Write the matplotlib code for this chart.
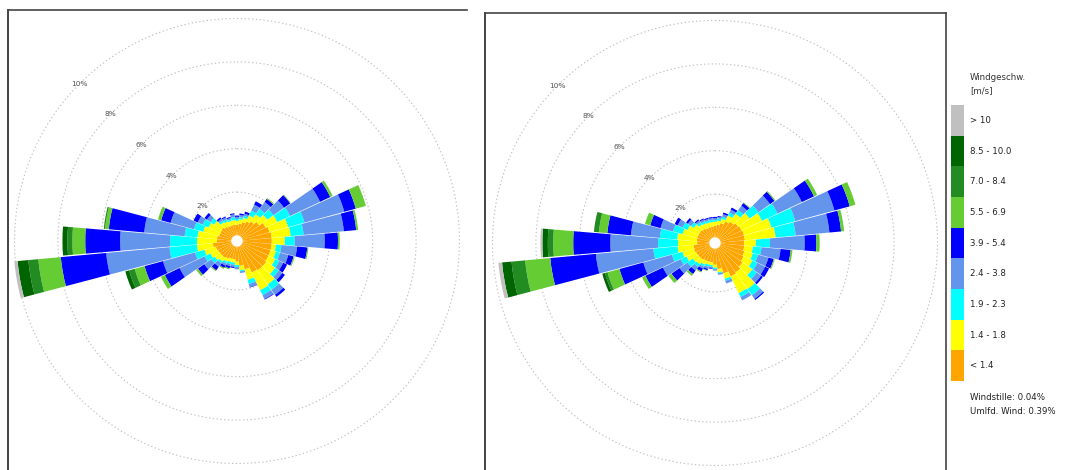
import numpy as np
import matplotlib
matplotlib.use("Agg")
import matplotlib.pyplot as plt
from matplotlib.patches import Rectangle
from matplotlib.lines import Line2D

W, H = 1065, 470

directions = np.arange(0, 360, 10)  # sector centres, compass degrees
classes = ["< 1.4", "1.4 - 1.8", "1.9 - 2.3", "2.4 - 3.8", "3.9 - 5.4",
           "5.5 - 6.9", "7.0 - 8.4", "8.5 - 10.0", "> 10"]
colors = ["#FFA500", "#FFFF00", "#00FFFF", "#6495ED", "#0000FF",
          "#66CC33", "#228B22", "#006400", "#C0C0C0"]
ring_values = [2, 4, 6, 8, 10]
legend_title = "Windgeschw.\n[m/s]"
calm_text = "Windstille: 0.04%"
variable_text = "Umlfd. Wind: 0.39%"

# cumulative frequency (%) per sector, up to the upper edge of each speed class
left_lt14 = [0.50, 0.55, 0.65, 0.75, 0.85, 1.00, 1.20, 1.30, 1.35, 1.35, 1.35, 1.35, 1.35, 1.40, 1.40, 1.35, 1.10, 0.90,
             0.70, 0.60, 0.60, 0.65, 0.70, 0.70, 0.72, 0.76, 0.86, 0.67, 0.67, 0.60, 0.60, 0.62, 0.55, 0.50, 0.50, 0.50]
left_lt18 = [0.68, 0.75, 0.85, 1.05, 1.25, 1.45, 1.80, 2.19, 2.23, 1.95, 1.55, 1.60, 1.70, 1.90, 2.20, 2.25, 1.60, 1.10,
             0.85, 0.75, 0.75, 0.80, 0.90, 1.00, 1.10, 1.30, 1.60, 1.59, 1.57, 1.36, 1.20, 1.05, 0.80, 0.75, 0.70, 0.72]
left_lt23 = [0.76, 0.85, 0.95, 1.30, 1.55, 1.80, 2.45, 2.97, 2.83, 2.41, 1.80, 1.80, 1.90, 2.10, 2.50, 2.50, 1.80, 1.15,
             0.95, 0.85, 0.85, 0.90, 1.00, 1.20, 1.40, 1.75, 2.87, 2.83, 2.17, 1.80, 1.50, 1.25, 0.90, 0.85, 0.78, 0.85]
left_lt38 = [0.86, 0.95, 1.05, 1.60, 1.95, 2.40, 3.98, 4.87, 4.69, 3.79, 2.53, 2.20, 2.10, 2.30, 2.78, 2.70, 1.95, 1.23,
             1.05, 0.95, 0.95, 1.00, 1.20, 1.60, 2.67, 3.28, 5.80, 5.13, 4.04, 2.92, 1.75, 1.45, 1.00, 0.95, 0.85, 0.98]
left_lt54 = [0.92, 1.02, 1.15, 1.77, 2.12, 2.75, 4.50, 5.42, 5.26, 4.40, 3.00, 2.45, 2.30, 2.45, 2.90, 2.73, 1.97, 1.23,
             1.05, 1.00, 1.05, 1.12, 1.40, 1.95, 3.42, 4.16, 7.90, 6.74, 5.68, 3.37, 1.96, 1.58, 1.08, 1.00, 0.90, 1.03]
left_lt69 = [0.92, 1.02, 1.15, 1.77, 2.17, 2.78, 4.62, 5.90, 5.35, 4.48, 3.05, 2.50, 2.30, 2.45, 2.90, 2.73, 1.97, 1.23,
             1.05, 1.00, 1.10, 1.17, 1.45, 2.05, 3.62, 4.63, 8.94, 7.33, 5.85, 3.52, 1.96, 1.58, 1.08, 1.00, 0.90, 1.03]
left_lt84 = [0.92, 1.02, 1.15, 1.77, 2.17, 2.78, 4.62, 5.90, 5.35, 4.48, 3.05, 2.50, 2.30, 2.45, 2.90, 2.73, 1.97, 1.23,
             1.05, 1.00, 1.10, 1.17, 1.45, 2.05, 3.62, 4.90, 9.40, 7.56, 5.91, 3.52, 1.96, 1.58, 1.08, 1.00, 0.90, 1.03]
left_lt100 = [0.92, 1.02, 1.15, 1.77, 2.17, 2.78, 4.62, 5.90, 5.35, 4.48, 3.05, 2.50, 2.30, 2.45, 2.90, 2.73, 1.97, 1.23,
              1.05, 1.00, 1.10, 1.17, 1.45, 2.05, 3.62, 5.08, 9.90, 7.79, 5.91, 3.52, 1.96, 1.58, 1.08, 1.00, 0.90, 1.03]
left_all = [0.92, 1.02, 1.15, 1.77, 2.17, 2.78, 4.62, 5.90, 5.35, 4.48, 3.05, 2.50, 2.30, 2.45, 2.90, 2.73, 1.97, 1.23,
            1.05, 1.00, 1.10, 1.17, 1.45, 2.05, 3.62, 5.08, 10.05, 7.79, 5.91, 3.52, 1.96, 1.58, 1.08, 1.00, 0.90, 1.03]

right_lt14 = [0.55, 0.60, 0.70, 0.85, 0.95, 1.05, 1.10, 1.13, 1.13, 1.10, 1.10, 1.15, 1.20, 1.30, 1.40, 1.45, 1.20, 0.95,
              0.75, 0.65, 0.65, 0.65, 0.70, 0.70, 0.72, 0.75, 0.75, 0.57, 0.60, 0.60, 0.60, 0.60, 0.55, 0.50, 0.50, 0.50]
right_lt18 = [0.72, 0.78, 0.90, 1.15, 1.40, 1.70, 2.14, 2.44, 2.55, 1.63, 1.50, 1.55, 1.65, 1.85, 2.35, 2.30, 1.45, 1.10,
              0.88, 0.78, 0.78, 0.85, 0.95, 1.00, 1.20, 1.30, 1.48, 1.45, 1.50, 1.30, 1.15, 0.95, 0.80, 0.75, 0.72, 0.72]
right_lt23 = [0.80, 0.88, 1.00, 1.30, 1.60, 2.20, 2.93, 3.58, 3.48, 2.28, 1.90, 1.80, 1.90, 2.10, 2.70, 2.50, 1.55, 1.15,
              0.95, 0.85, 0.88, 0.95, 1.10, 1.30, 1.50, 1.80, 2.60, 2.37, 2.30, 1.75, 1.40, 1.10, 0.92, 0.85, 0.82, 0.82]
right_lt38 = [0.90, 0.96, 1.12, 1.45, 1.85, 2.85, 4.17, 5.45, 5.04, 3.88, 2.78, 2.30, 2.30, 2.35, 2.90, 2.67, 1.68, 1.22,
              1.02, 0.92, 0.98, 1.05, 1.30, 1.75, 2.40, 3.17, 5.26, 4.57, 3.64, 2.35, 1.65, 1.28, 1.02, 0.95, 0.90, 0.90]
right_lt54 = [0.95, 1.00, 1.20, 1.55, 2.00, 3.10, 4.79, 6.18, 5.58, 4.42, 3.25, 2.55, 2.50, 2.45, 2.96, 2.67, 1.68, 1.22,
              1.02, 0.95, 1.05, 1.20, 1.50, 2.20, 3.29, 4.31, 7.37, 6.28, 4.73, 2.84, 1.80, 1.38, 1.08, 1.00, 0.95, 0.95]
right_lt69 = [0.95, 1.00, 1.20, 1.55, 2.03, 3.15, 4.95, 6.45, 5.72, 4.57, 3.33, 2.60, 2.50, 2.45, 2.96, 2.67, 1.68, 1.22,
              1.02, 0.95, 1.08, 1.25, 1.60, 2.37, 3.46, 4.88, 8.53, 7.20, 5.12, 3.09, 1.80, 1.38, 1.08, 1.00, 0.95, 0.95]
right_lt84 = [0.95, 1.00, 1.20, 1.55, 2.03, 3.15, 4.95, 6.45, 5.72, 4.57, 3.33, 2.60, 2.50, 2.45, 2.96, 2.67, 1.68, 1.22,
              1.02, 0.95, 1.08, 1.25, 1.60, 2.37, 3.46, 5.00, 9.16, 7.45, 5.35, 3.09, 1.80, 1.38, 1.08, 1.00, 0.95, 0.95]
right_lt100 = [0.95, 1.00, 1.20, 1.55, 2.03, 3.15, 4.95, 6.45, 5.72, 4.57, 3.33, 2.60, 2.50, 2.45, 2.96, 2.67, 1.68, 1.22,
               1.02, 0.95, 1.08, 1.25, 1.60, 2.37, 3.46, 5.13, 9.60, 7.70, 5.35, 3.09, 1.80, 1.38, 1.08, 1.00, 0.95, 0.95]
right_all = [0.95, 1.00, 1.20, 1.55, 2.03, 3.15, 4.95, 6.45, 5.72, 4.57, 3.33, 2.60, 2.50, 2.45, 2.96, 2.67, 1.68, 1.22,
             1.02, 0.95, 1.08, 1.25, 1.60, 2.37, 3.46, 5.13, 9.77, 7.79, 5.35, 3.09, 1.80, 1.38, 1.08, 1.00, 0.95, 0.95]

left_cum = [left_lt14, left_lt18, left_lt23, left_lt38, left_lt54, left_lt69, left_lt84, left_lt100, left_all]
right_cum = [right_lt14, right_lt18, right_lt23, right_lt38, right_lt54, right_lt69, right_lt84, right_lt100, right_all]

R_PX = 230          # half size of each rose panel in pixels
R_MAX = 10.345      # percent at panel edge
R_ORIGIN = -0.253   # small white hole in the middle
GAP_DEG = 0.45      # thin white gap between neighbouring sectors


def fig_box(cx, cy):
    return [(cx - R_PX) / W, (H - cy - R_PX) / H, 2 * R_PX / W, 2 * R_PX / H]


def draw_rose(ax, cum):
    ax.set_theta_zero_location("N")
    ax.set_theta_direction(-1)
    ax.set_ylim(0, R_MAX)
    ax.set_rorigin(R_ORIGIN)
    ax.set_axis_off()  # no spines, ticks or inner circle

    t = np.linspace(0, 2 * np.pi, 500)
    for rv in ring_values:
        ax.plot(t, np.full_like(t, rv), color="#c0c0c0", lw=0.8, ls=(0, (1.2, 2.2)), zorder=1)
        ax.text(np.deg2rad(315), rv, f"{rv}%", ha="center", va="center",
                fontsize=5.3, color="#555555", zorder=2)

    theta = np.deg2rad(directions)
    width = np.deg2rad(10 - GAP_DEG)
    bottom = np.zeros(len(directions))
    for upper, col in zip(cum, colors):
        upper = np.asarray(upper)
        ax.bar(theta, upper - bottom, width=width, bottom=bottom, color=col,
               linewidth=0, zorder=3)
        bottom = upper


def px_line(fig, xs, ys, color="#444444", lw=1.2):
    fig.add_artist(Line2D([x / W for x in xs], [1 - y / H for y in ys],
                          transform=fig.transFigure, color=color, lw=lw))


fig = plt.figure(figsize=(W / 100, H / 100), dpi=100)

ax_l = fig.add_axes(fig_box(237, 241), projection="polar")
draw_rose(ax_l, left_cum)
ax_r = fig.add_axes(fig_box(715, 243), projection="polar")
draw_rose(ax_r, right_cum)

# panel frames
px_line(fig, [8, 8], [10, 470], color="#222222")
px_line(fig, [8, 467], [10, 10])
px_line(fig, [485, 485], [13, 470], color="#222222")
px_line(fig, [485, 946], [13, 13])
px_line(fig, [946, 946], [13, 470])

# legend
box_top, box_h = 105, 30.67
fig.text(970 / W, 1 - 84 / H, legend_title, fontsize=6.2, color="#333333",
         ha="left", va="center", linespacing=1.5)
for i, (lab, col) in enumerate(zip(classes[::-1], colors[::-1])):
    y0 = box_top + i * box_h
    fig.add_artist(Rectangle((951 / W, 1 - (y0 + box_h) / H), 13 / W, box_h / H,
                             transform=fig.transFigure, color=col, lw=0))
    fig.text(970 / W, 1 - (y0 + box_h / 2) / H, lab, fontsize=6.2, color="#222222",
             ha="left", va="center")
fig.text(970 / W, 1 - 397 / H, calm_text, fontsize=6.2, color="#222222", ha="left", va="center")
fig.text(970 / W, 1 - 411 / H, variable_text, fontsize=6.2, color="#222222", ha="left", va="center")

fig.savefig("out.png", dpi=100)
